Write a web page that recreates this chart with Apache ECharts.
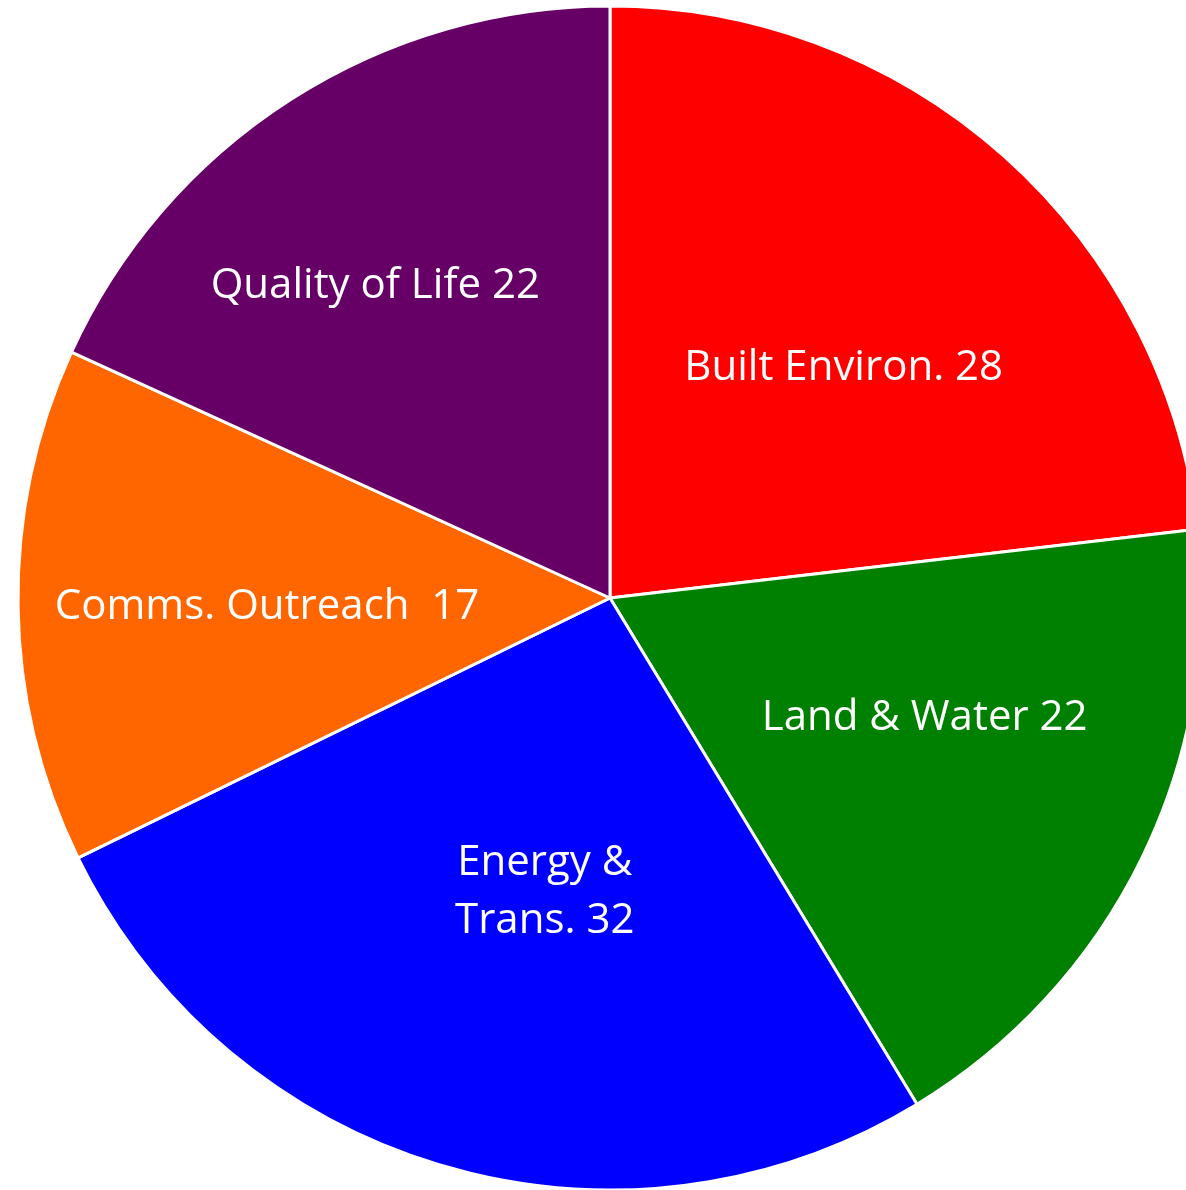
<!DOCTYPE html>
<html>
<head>
<meta charset="utf-8">
<script src="https://cdn.jsdelivr.net/npm/echarts@6/dist/echarts.min.js"></script>
<style>
  html, body { margin: 0; padding: 0; background: #ffffff; }
  #chart { width: 1186px; height: 1190px; }
</style>
</head>
<body>
<div id="chart"></div>
<script>
const categories = ['Built Environ.', 'Land & Water', 'Energy &\nTrans.', 'Comms. Outreach ', 'Quality of Life'];
const values = [28, 22, 32, 17, 22];
const colors = ['#FF0000', '#008000', '#0000FF', '#FF6600', '#660066'];

const labelOffsets = [[35, -7], [46, -11], [19, 7], [-44, 5], [-73, -60]];

const chart = echarts.init(document.getElementById('chart'), null, { renderer: 'canvas' });
chart.setOption({
  backgroundColor: '#ffffff',
  animation: false,
  series: [{
    type: 'pie',
    center: [610, 598],
    radius: [0, 592],
    startAngle: 90,
    clockwise: true,
    avoidLabelOverlap: false,
    itemStyle: { borderColor: '#ffffff', borderWidth: 3 },
    label: {
      show: true,
      position: 'inside',
      color: '#ffffff',
      fontFamily: 'Open Sans',
      fontSize: 42,
      lineHeight: 58,
      align: 'center',
      formatter: '{b} {c}'
    },
    labelLine: { show: false },
    emphasis: { disabled: true },
    data: categories.map((name, i) => ({
      name: name,
      value: values[i],
      itemStyle: { color: colors[i] },
      label: { offset: labelOffsets[i] }
    }))
  }]
});
</script>
</body>
</html>
